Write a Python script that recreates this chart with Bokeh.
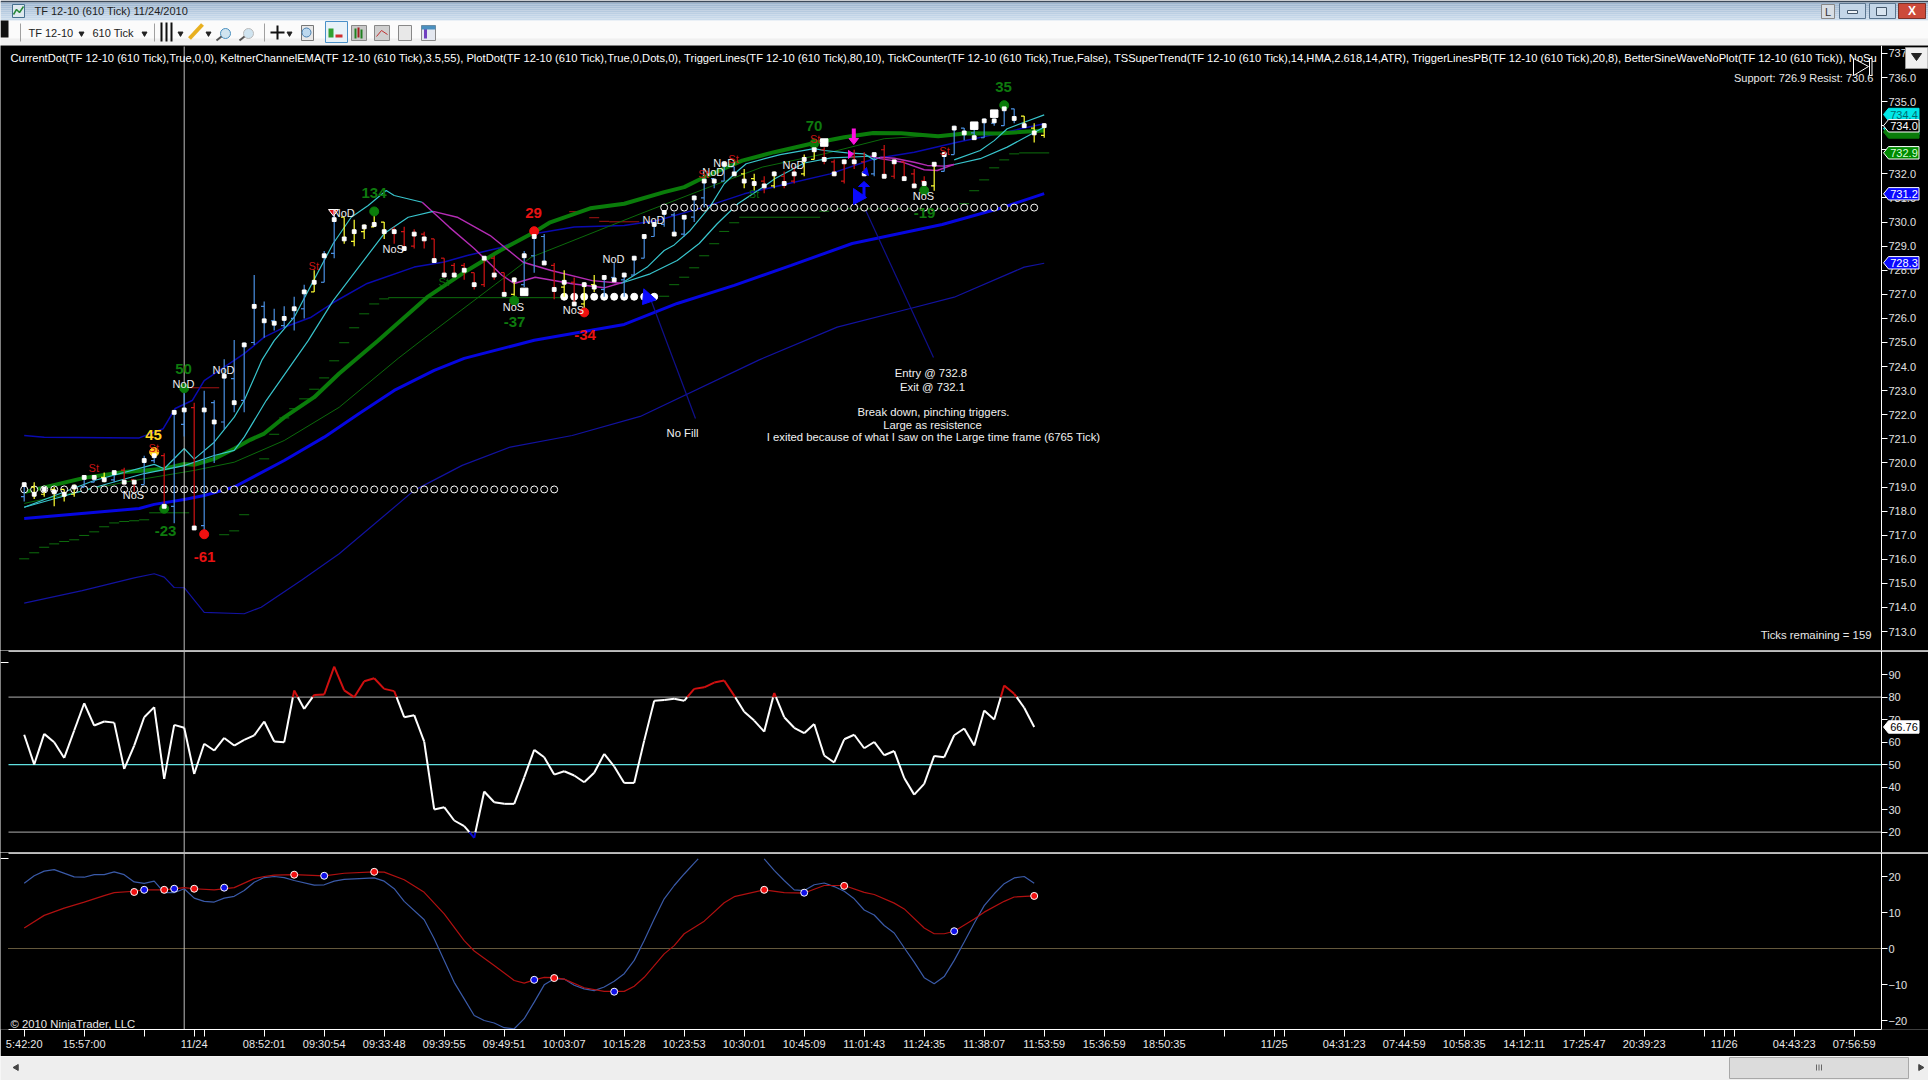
from bokeh.plotting import figure
from bokeh.layouts import column
from bokeh.embed import file_html
from bokeh.resources import INLINE
from bokeh.core.properties import value
from bokeh.models import Range1d, LinearAxis, FixedTicker, NumeralTickFormatter

# ---------------------------------------------------------------- data
bar_open = [718.6,719.0,718.7,718.9,718.9,718.7,719.0,719.2,719.4,719.3,
 719.7,719.3,719.1,720.1,720.3,718.2,721.6,722.3,717.4,722.5,
 721.7,723.5,722.6,725.0,726.5,725.9,725.7,726.0,726.4,727.1,
 727.5,728.7,730.2,729.2,729.6,729.8,730.0,729.7,729.6,729.0,
 729.5,729.3,728.5,728.2,728.2,727.9,727.4,728.5,727.9,727.0,
 727.4,728.6,729.4,728.2,727.3,727.5,726.6,727.4,727.2,727.7,
 727.6,727.8,728.5,729.4,729.9,730.3,729.5,730.2,731.0,731.8,
 731.7,732.3,732.0,731.8,731.7,731.5,731.9,731.7,732.0,732.6,
 733.0,732.5,731.7,732.7,732.5,732.0,733.0,731.9,732.5,732.0,
 731.7,731.5,732.1,732.8,733.9,733.7,733.5,734.1,734.0,734.7,
 734.4,733.9,733.6]
bar_high = [719.1,719.2,719.0,719.0,718.9,719.1,719.4,719.5,719.6,719.6,
 719.8,719.3,720.3,720.4,720.4,722.2,723.0,722.5,723.0,722.6,
 724.3,725.1,725.0,727.8,726.7,726.4,726.5,726.9,727.4,728.0,
 728.8,730.3,730.2,730.1,729.9,730.3,730.0,729.8,729.8,729.7,
 729.6,729.3,728.5,728.3,728.3,727.9,728.5,728.6,727.9,727.7,
 728.8,729.5,729.5,728.3,728.0,727.7,727.5,727.8,727.7,728.3,
 727.9,728.6,729.5,730.0,730.5,730.4,730.2,731.1,731.8,731.8,
 732.4,732.3,732.2,732.0,731.9,732.1,732.1,732.3,732.8,733.1,
 733.1,732.6,732.6,733.0,732.9,732.8,733.2,732.6,732.5,732.2,
 731.9,732.4,732.9,734.0,733.9,733.9,734.3,734.3,734.8,734.7,
 734.4,734.1,734.1]
bar_low = [718.4,718.5,718.6,718.2,718.4,718.6,719.0,719.2,719.2,719.2,
 719.1,718.8,719.1,720.0,718.1,717.5,721.1,717.3,717.1,720.0,
 721.4,722.1,722.1,724.9,725.2,725.5,725.6,725.5,726.0,727.1,
 727.5,728.5,729.1,729.0,729.3,729.8,729.3,729.1,728.9,728.9,
 728.9,728.3,727.7,727.7,727.6,727.2,727.3,727.6,727.0,726.9,
 727.3,727.9,728.3,726.8,726.9,726.6,726.4,727.1,726.9,727.6,
 726.9,727.8,728.5,729.4,729.8,729.5,729.4,730.0,730.6,731.4,
 731.7,732.0,731.4,731.3,731.2,731.4,731.4,731.6,731.9,732.6,
 732.4,731.9,731.6,732.2,731.9,731.9,731.9,731.8,731.7,731.4,
 731.5,731.3,732.1,732.8,733.4,733.5,733.5,734.0,734.0,734.1,
 733.9,733.3,733.5]
bar_close = [719.1,718.7,718.9,718.8,718.7,719.0,719.4,719.4,719.3,719.6,
 719.2,719.2,720.1,720.3,718.2,722.1,722.2,717.3,722.2,721.7,
 723.6,722.5,724.9,726.5,725.9,725.8,726.0,726.4,727.1,727.5,
 728.6,730.1,729.3,729.6,729.8,729.9,729.6,729.6,728.9,729.5,
 729.3,728.4,727.8,727.8,728.0,727.4,728.5,727.8,727.0,727.6,
 728.6,729.4,728.3,727.2,727.5,726.6,727.4,727.3,727.7,727.6,
 727.8,728.5,729.4,729.9,730.4,729.5,730.2,731.0,731.7,731.7,
 732.4,732.0,731.7,731.6,731.5,732.0,731.6,732.0,732.6,733.0,
 732.6,732.0,732.5,732.5,732.0,732.8,731.9,732.5,731.8,731.5,
 731.6,732.4,732.8,733.9,733.7,733.5,734.2,734.2,734.7,734.3,
 734.0,733.7,734.0]
bar_kind = list("BYYYYYBBYBRRBBRBBR" "BBBBBBBBBBB" "Y" "BB" "YYYYY" "RRRRRRRRRRRR" "Y" "BBB" "R" "Y" "R" "YY"
                "BBBBBBBBBBBBBB" "YY" "R" "Y" "RR" "YY" "RRRRR" "B" "RRRRR" "Y" "BBBBBBBB" "YYY")
big_bar = [50, 80, 95, 97]
big_val = [727.1, 733.3, 734.0, 734.5]

ema_x = [0,6,10,12,14,16,17,19,21,22.6,24,26,29,31.5,35.4,40.3,44.3,47.6,51,52.6,56.6,60,64,66,68,71.8,75,78.8,82,84.9,87.7,91.4,94.3,97.5,102]
ema_y = [718.79,719.38,719.62,719.69,719.76,719.96,719.92,720.17,720.59,720.96,721.22,721.89,722.73,723.71,725.08,726.88,727.99,728.82,729.58,729.99,730.57,730.76,731.24,731.45,731.86,732.55,732.90,733.26,733.52,733.70,733.69,733.56,733.69,733.68,733.80]
thin_x = [0,10,14,17,21,26,31.5,37.4,39.7,50.7,61.6,68.5,73.8,80,86,91,102]
thin_y = [718.32,719.2,719.48,719.69,720.03,720.93,722.31,724.34,725.08,728.54,730.34,731.45,732.28,732.83,733.46,733.59,733.8]
kc_mid_x = [0,11.5,13,16,18,21,26,30,33.5,37,41,44,51,60,65.3,71,76.7,82.8,91.8,97.5,102]
kc_mid_y = [717.69,718.11,718.28,718.48,718.65,719.0,720.1,721.07,722.05,723.01,723.84,724.34,725.09,725.75,726.62,727.37,728.2,729.11,729.9,730.56,731.18]
kc_low_x = [0,5.8,11,13,14,15,16,18,22,23.7,27.8,31.5,39,43.8,48.6,54.8,61.6,73.5,81.3,88.6,93,100,102]
kc_low_y = [714.18,714.7,715.23,715.4,715.26,714.83,714.82,713.8,713.74,714.01,715.15,716.23,718.86,719.9,720.66,721.14,721.93,724.28,725.64,726.41,726.88,728.13,728.29]
kc_up_x = [0,2,11.5,13.9,15.1,16.8,18,22,24,26,28.7,31,34.3,39,42,44.3,47.6,51,55,60,63.3,68,72,75.6,80.6,85,89,93.3,97.3,102]
kc_up_y = [721.14,721.07,721.04,721.42,722.26,722.59,723.42,724.54,725.22,725.63,726.05,726.68,727.45,728.13,728.34,728.61,728.93,729.51,729.79,729.86,730.06,730.62,731.17,731.52,732.0,732.63,732.9,733.31,733.66,734.08]

fast_runs = [
 ("c",[0,7,13,14,16,17,19,21,22,23.8,25,27,30.9,32.7,34.4,36.2,37,39.8],
      [718.16,719.27,719.94,719.76,720.6,720.16,720.86,721.9,722.59,724.29,725.08,726.05,729.11,730.2,730.69,731.31,731.1,730.82]),
 ("m",[39.8,42.5,45,47.8,49,51.1,54.8,58,59.9],
      [730.82,729.79,728.9,727.78,727.45,727.71,727.44,727.27,727.5]),
 ("c",[59.9,62.3,64,65,66.6,68.6,70,71.4,72.2,75.6,79,80,82.3,84,85,85.6],
      [727.5,728.13,728.82,729.05,729.65,730.65,731.59,732.14,732.42,732.8,733.05,732.97,732.87,732.83,732.58,732.69]),
 ("m",[85.6,87,89,90.3,92,93],[732.69,732.65,732.48,732.35,732.32,732.39]),
 ("c",[93,95.6,97,98.3,100,102],[732.58,732.97,733.38,733.87,734.14,734.45]),
]
slow_runs = [
 ("c",[0,12,16,19,21,22,24.2,28.4,30.9,36,38.4,40.9],
      [718.16,719.56,719.89,720.31,720.52,721.07,722.59,725.08,726.74,729.52,730.2,730.44]),
 ("m",[40.9,43.3,46.6,49.9,52.7,56.8,59.7],[730.44,730.2,729.44,728.33,727.99,727.57,727.46]),
 ("c",[59.7,62.6,65.3,67.5,69.3,71.4,73.9,75.1,78,80.7,84.6],
      [727.46,727.85,728.4,729.11,729.93,730.77,731.45,731.81,732.45,732.66,732.73]),
 ("m",[84.6,85.6,87.9,90,91.3,93],[732.73,732.63,732.48,732.17,732.14,732.39]),
 ("c",[93,95.6,98.3,101,102],[732.39,732.63,733.11,733.72,733.94]),
]

st_green_from = [-.5,.5,1.5,2.5,3.5,4.5,5.5,6.5,7.5,8.5,9.5,10.5,11.5,12.5,19.5,20.5,21.5,22.5,23.5,24.5,25.5,26.5,27.5,28.5,29.5,30.5,31.5,32.5,33.5,34.5,35.5,36.4,63.5,64.5,65.5,66.5,67.5,68.5,69.5,70.5,71.5,79.5,80.5,93.5,94.5,95.5,96.5,97.5,98.5,99.5]
st_green_to   = [.5,1.5,2.5,3.5,4.5,5.5,6.5,7.5,8.5,9.5,10.5,11.5,12.5,16.5,20.5,21.5,22.5,23.5,24.5,25.5,26.5,27.5,28.5,29.5,30.5,31.5,32.5,33.5,34.5,35.5,36.5,53.6,64.5,65.5,66.5,67.5,68.5,69.5,70.5,71.5,79.6,80.5,93.5,94.5,95.5,96.5,97.5,98.5,99.5,102.5]
st_green_val  = [716.02,716.27,716.5,716.64,716.74,716.81,716.99,717.14,717.35,717.51,717.57,717.6,717.64,717.93,717.02,717.18,717.85,718.81,720.17,721.19,721.87,722.25,722.66,723.06,723.53,724.24,724.99,725.61,726.19,726.6,726.81,726.86,726.92,727.4,727.71,728.1,728.6,729.1,729.61,729.97,730.2,730.45,730.55,730.76,731.3,731.75,732.25,732.58,732.83,732.87]
st_red_from = [16.5,54.5,56.5,57.5,58.5]
st_red_to   = [19.5,55.5,57.5,58.5,61.5]
st_red_val  = [723.12,730.43,730.18,730.03,730.01]

ring_bars_a = list(range(0, 54));  ring_a = 718.9
disc_bars   = list(range(54, 64)); disc_v = 726.9
ring_bars_b = list(range(64, 102)); ring_b = 730.6

dot_green_i = [16,14,35,49,79,90,98]
dot_green_v = [723.1,718.1,730.44,726.74,733.25,731.31,734.85]
dot_red_i = [18,51,56]
dot_red_v = [717.04,729.62,726.25]
dot_yellow_i = [13]
dot_yellow_v = [720.45]

rsi = [63.3,50.1,63.7,60,53,65.2,77.3,67.4,69.2,68.7,48.1,58.5,71.1,75.6,43.7,67.7,66.4,45.9,59.3,56.3,
 61.9,58.5,61,63,69.2,60.3,60,83,74.8,81,81.2,93.6,83,80,87.1,88.4,83.7,82.7,71.1,72,
 60.3,30.1,31.1,25.2,22.7,17.5,38.1,33.3,32.6,32.6,44.4,56.6,53.3,45.6,47.1,45.2,42.2,46.4,54.8,49.2,
 41.9,41.9,60.7,78.4,78.8,79.3,78.4,83.7,84.4,86.5,87.4,80.7,73.5,69.6,64.7,81.9,71.1,66.4,64,68.1,
 54.1,51,61.3,63.3,57.3,60.1,54.2,56.1,44.1,36.7,41.5,53.9,53.3,63.1,66.1,58.5,74.1,70.1,85.2,81.5,75.3,66.76]

sig_x = [0,2,4,6,8,9,11,12,14,16,17,19,21,23,24,25,27,30,32,35,36,38,40,42,44,45,47,49,50,51,52,53,54,56,58,60,61,62,64,65,66,68,70,71,74,76,78,80,82,84,85,87,88,90,91,92,93,95,96,98,99,101]
sig_y = [5.7,9.2,11.2,12.9,14.7,15.5,15.9,16.3,16.3,16.9,16.6,16.3,16.9,19.4,20,20.4,20.5,20.2,20.9,21.3,21.2,19.1,15.6,9.6,2.2,-0.7,-4.7,-8.9,-9.6,-8.7,-8,-8.1,-8.5,-10.9,-11.9,-11.9,-10.5,-8,-1.5,0.8,4.1,7.6,12.7,14.4,16.3,15.5,15.4,17.5,17.5,15.6,15,12.6,11,5.7,4.1,4.1,4.8,8.2,10.1,13.1,14.3,14.6]
osc_x = [0,1,2,3,5,6,7,8,9,10,11,12,13,14,15,16,17,18,19,20,21,22,23,24,25,26,27,29,30,31,32,35,36,37,38,40,41,42,43,44,45,46,47,48,49,50,51,52,53,54,55,56,57,58,59,60,61,62,63,64,65,66,67,67.4,None,74,75,76,77,78,79,80,81,82,83,84,85,86,87,88,89,90,91,92,93,94,95,96,97,98,99,100,101]
osc_y = [18.1,20.2,21.5,21.9,19.9,19.8,20.5,20.5,21.3,20.5,18.5,18.1,18.7,15.5,15.5,16.6,14,13.1,12.9,14,14.5,16.1,18.4,19.7,20,19.7,18.9,17.6,17.7,18.7,19.2,19.6,18.7,16.6,13.1,8,2.7,-3.3,-9.4,-14,-18.6,-20,-20.7,-22,-22.3,-19.5,-14.9,-10.1,-8.4,-8.5,-10.2,-11.2,-11.7,-10.7,-9.1,-7,-3.3,2.2,8.2,13.8,17.5,20.7,23.7,24.9,None,24.9,21.7,18.9,16.3,16.1,17.7,18.2,17.2,15.9,13.8,10.7,9.3,6.4,4.3,0.2,-3.8,-8.1,-9.8,-7.8,-3.3,1.8,7,11.9,15.2,18,19.6,20,18.1]
cross_red_i = [11,14,17,27,35,53,74,82,101]
cross_red_v = [15.7,16.3,16.6,20.5,21.3,-8.2,16.3,17.4,14.6]
cross_blue_i = [12,15,20,30,51,59,78,93]
cross_blue_v = [16.3,16.6,16.9,20.2,-8.7,-12,15.5,4.8]

time_ticks = [0,6,12,17,18,24,30,36,42,48,54,60,66,72,78,84,90,96,102,108,114,120,125,126,132,138,144,150,156,162,168,170,171,177,183]
time_labels = ["5:42:20","15:57:00","","11/24","","08:52:01","09:30:54","09:33:48","09:39:55","09:49:51","10:03:07","10:15:28","10:23:53","10:30:01","10:45:09","11:01:43","11:24:35","11:38:07","11:53:59","15:36:59","18:50:35","","11/25","","04:31:23","07:44:59","10:58:35","14:12:11","17:25:47","20:39:23","","11/26","","04:43:23","07:56:59"]
price_ticks = list(range(713, 738))
rsi_ticks = [20,30,40,50,60,70,80,90]
osc_ticks = [-20,-10,0,10,20]
crosshair_bar = 16

indicators = ("CurrentDot(TF 12-10 (610 Tick),True,0,0), KeltnerChannelEMA(TF 12-10 (610 Tick),3.5,55), PlotDot(TF 12-10 (610 Tick),True,0,Dots,0), "
 "TriggerLines(TF 12-10 (610 Tick),80,10), TickCounter(TF 12-10 (610 Tick),True,False), TSSuperTrend(TF 12-10 (610 Tick),14,HMA,2.618,14,ATR), "
 "TriggerLinesPB(TF 12-10 (610 Tick),20,8), BetterSineWaveNoPlot(TF 12-10 (610 Tick)), NoSu")

# ---------------------------------------------------------------- helpers
FONT = "Liberation Sans"
W, H = 1928, 1080
AXIS_X = 1881
X0, DX = 23.7, 10.0
def bx(px): return (px - X0) / DX
def py(y): return 736 - (y - 77) / 24.09
BG = "black"
xr = Range1d(bx(0), bx(W))

def panel(h, yr, border_b=0):
    p = figure(width=W, height=h, x_range=xr, y_range=yr, output_backend="svg", toolbar_location=None,
               x_axis_location=None, y_axis_location=None, background_fill_color=BG, border_fill_color=BG,
               min_border_left=0, min_border_right=0, min_border_top=0, min_border_bottom=border_b)
    p.grid.visible = False
    p.outline_line_color = None
    return p

def y_axis(p, ticks, fmt=None):
    a = LinearAxis(ticker=FixedTicker(ticks=ticks), axis_line_color="white", major_tick_line_color="white",
                   minor_tick_line_color=None, major_tick_in=0, major_tick_out=6, major_label_standoff=1,
                   major_label_text_color="#e0e0e0", major_label_text_font=FONT, major_label_text_font_size="11px",
                   fixed_location=bx(AXIS_X))
    if fmt: a.formatter = fmt
    p.add_layout(a, "right")

def txt(p, x, y, s, color="white", size=11, bold=False, align="center", level="glyph"):
    p.text([x], [y], text=[s], text_color=color, text_font=value(FONT), text_font_size=f"{size}px",
           text_font_style="bold" if bold else "normal", text_align=align, text_baseline="middle", level=level)

def flag(p, cy, s, fill, edge, tcol, conv):
    x0, x1, tip = bx(1888), bx(1918.5), bx(1883)
    t, b = conv(cy - 6.2), conv(cy + 6.2)
    p.patch([tip, x0, x1, x1, x0], [conv(cy), t, t, b, b], fill_color=fill, line_color=edge, line_width=1, level="overlay")
    if s:
        txt(p, bx(1903.5), conv(cy), s, tcol, 11, level="overlay")

# ---------------------------------------------------------------- window title and toolbar
top = figure(width=W, height=45, x_range=Range1d(0, W), y_range=Range1d(45, 0), output_backend="svg", toolbar_location=None,
             x_axis_location=None, y_axis_location=None, background_fill_color="#f4f4f4", border_fill_color="#f4f4f4",
             min_border=0)
top.grid.visible = False
top.outline_line_color = None
for k, c in enumerate(["#3c4a5a","#9db6cf","#a3bbd3","#a9c0d7","#afc5db","#b5cadf","#bbcfe3","#c1d4e7","#c6d8ea","#cbdcec","#d0dfef"]):
    top.quad(left=0, right=W, top=k*2, bottom=k*2+2, fill_color=c, line_color=None)
top.quad(left=0, right=W, top=20, bottom=45, fill_color="#fbfbfb", line_color=None)
top.quad(left=0, right=W, top=38, bottom=45, fill_color="#f0f0f0", line_color=None)
top.quad(left=0, right=8, top=20, bottom=37, fill_color="#111111", line_color=None)
top.quad(left=[12], right=[24], top=[4], bottom=[17], fill_color="#dfe9ef", line_color="#47708f")
top.line([13,16,19,23],[14,9,12,6], line_color="#2a8a3a", line_width=1.5)
txt(top, 34, 10, "TF 12-10 (610 Tick)  11/24/2010", "#222222", 11, align="left")
txt(top, 28, 32, "TF 12-10", "#222222", 11, align="left")
txt(top, 92, 32, "610 Tick", "#222222", 11, align="left")
top.scatter([81,144,180,208,289],[33,33,33,33,33], marker="inverted_triangle", size=5, color="#222222")
top.segment([20,154,264],[23,23,23],[20,154,264],[41,41,41], line_color="#a0a0a0")
for x in (161,166,171):
    top.segment([x],[22],[x],[41], line_color="#111111", line_width=2)
top.segment([189],[38],[202],[24], line_color="#e8b020", line_width=4)
for x, c in ((225,"#4a90c0"),(248,"#bbbbbb")):
    top.scatter([x],[33], marker="circle", size=10, fill_color="#d0e4f0", line_color=c)
    top.segment([x-9],[40],[x-4],[36], line_color="#555555", line_width=2)
top.segment([270,277],[32,25],[284,277],[32,39], line_color="#111111", line_width=2)
top.quad(left=[301],right=[313],top=[25],bottom=[40],fill_color="#e8e8e8",line_color="#777777")
top.scatter([306],[32],marker="circle",size=9,fill_color="#bcd8ee",line_color="#4a80b0")
top.quad(left=[325],right=[347],top=[21],bottom=[42],fill_color="#e8f2f8",line_color="#4a90c8")
top.quad(left=[328,335],right=[333,342],top=[28,34],bottom=[37,37],fill_color=["#30a030","#d03030"],line_color=None)
top.quad(left=[351,374,398,421],right=[366,389,411,435],top=[25,25,25,25],bottom=[40,40,40,40],
         fill_color=["#c8c8c8","#cfcfcf","#e8e8e8","#e4e8f0"],line_color="#888888")
top.segment([355,358,361],[28,27,29],[355,358,361],[38,37,38],line_color=["#208020","#a02020","#208020"],line_width=2)
top.line([376,381,387],[36,30,34],line_color="#c03030")
top.segment([425],[27],[425],[38],line_color="#7040c0",line_width=3)
top.quad(left=[421],right=[435],top=[25],bottom=[29],fill_color="#4a90c0",line_color=None)
top.quad(left=[1821],right=[1834],top=[4],bottom=[18],fill_color="#d8dee4",line_color="#888888")
txt(top, 1827.5, 11, "L", "#333333", 11)
top.quad(left=[1839,1869],right=[1865,1895],top=[3,3],bottom=[18,18],fill_color="#c4d6e8",line_color="#5c7690")
top.quad(left=[1898],right=[1925],top=[3],bottom=[18],fill_color="#cc4a3a",line_color="#7a3028")
top.quad(left=[1847],right=[1857],top=[10],bottom=[13],fill_color="#f0f4f8",line_color="#45586c")
top.quad(left=[1876],right=[1886],top=[7],bottom=[15],fill_color="#d8e4f0",line_color="#45586c")
txt(top, 1911.5, 10.5, "X", "white", 12, bold=True)

# ---------------------------------------------------------------- price pane
main = panel(605, Range1d(py(650), py(45)))
y_axis(main, price_ticks, NumeralTickFormatter(format="0.0"))

idx = list(range(len(bar_close)))
# supertrend steps
main.segment(st_green_from, st_green_val, st_green_to, st_green_val, line_color="#0d6e0d", line_width=1)
main.segment(st_red_from, st_red_val, st_red_to, st_red_val, line_color="#a51414", line_width=1)
main.segment([91],[733.57],[92],[733.57], line_color="#8a5a10", line_width=2)
# channel
main.line(kc_low_x, kc_low_y, line_color="#1212a0", line_width=1.2)
main.line(kc_up_x, kc_up_y, line_color="#0a0ab0", line_width=1.5)
main.line(kc_mid_x, kc_mid_y, line_color="#0606e0", line_width=3)
main.line(thin_x, thin_y, line_color="#0b6a0b", line_width=1)
main.line(ema_x, ema_y, line_color="#0a7c0a", line_width=4)
# trigger lines
for runs in (fast_runs, slow_runs):
    for kind, xs, ys in runs:
        main.line(xs, ys, line_color="#38c4cc" if kind == "c" else "#b42cb4", line_width=1.2 if kind == "c" else 1.4)
# annotation diagonals
main.line([bx(651),bx(695)],[py(301),py(418)], line_color="#10108c", line_width=1.2)
main.line([bx(863),bx(933)],[py(205),py(357)], line_color="#10108c", line_width=1.2)
# dots rows
main.scatter(ring_bars_a, [ring_a]*len(ring_bars_a), marker="circle", size=7, fill_color="black", line_color="white", line_width=1)
main.scatter(ring_bars_b, [ring_b]*len(ring_bars_b), marker="circle", size=7, fill_color="black", line_color="white", line_width=1)
main.scatter(disc_bars, [disc_v]*len(disc_bars), marker="circle", size=7, fill_color="white", line_color="white")
# crosshair
main.line([crosshair_bar]*2, [py(46), py(650)], line_color="#bdbdbd", line_width=1)
# bars
KIND = {"B":"#4a90e2","R":"#d01414","Y":"#ffff33"}
bar_col = [KIND[k] for k in bar_kind]
main.segment(idx, bar_low, idx, bar_high, line_color=bar_col, line_width=1.2)
main.segment([i-0.32 for i in idx], bar_open, idx, bar_open, line_color=bar_col, line_width=1.2)
main.scatter(dot_green_i, dot_green_v, marker="circle", size=9, color="#0a7c0a")
main.scatter(dot_red_i, dot_red_v, marker="circle", size=9, color="#f01010")
main.scatter(dot_yellow_i, dot_yellow_v, marker="circle", size=9, color="#ffc81e")
main.scatter(idx, bar_close, marker="square", size=3.8, color="white")
main.scatter(big_bar, big_val, marker="square", size=7.5, color="white")
# arrows
main.patch([bx(x) for x in (643.3,642,655.7)], [py(y) for y in (288.3,304,299.3)], color="#0a0aff")
main.patch([bx(x) for x in (853,853,866)], [py(y) for y in (188,204,197)], color="#0a0aff")
main.segment([bx(863.5)],[py(198)],[bx(863.5)],[py(185)], line_color="#0a0aff", line_width=3)
main.patch([bx(x) for x in (858,869,863.5)], [py(y) for y in (186,186,181)], color="#0a0aff")
main.patch([bx(x) for x in (866,868,862)], [py(y) for y in (167,175,172)], color="#0a0aff")
main.segment([bx(853.3)],[py(128)],[bx(853.3)],[py(139)], line_color="#ff10e0", line_width=4)
main.patch([bx(x) for x in (848.5,858,853.3)], [py(y) for y in (138,138,144)], color="#ff10e0")
main.patch([bx(x) for x in (848,848,853)], [py(y) for y in (150,158,153.5)], color="#ff10e0")
main.patch([bx(x) for x in (328,338,333)], [py(y) for y in (209,209,215.5)], fill_color="#e01010", line_color="white")
# texts
txt(main, bx(10), py(57.3), indicators, "white", 11.17, align="left")
txt(main, bx(1876), py(77), "Support: 726.9  Resist: 730.6", "#e8e8e8", 11, align="right")
txt(main, bx(1871), py(634.5), "Ticks remaining = 159", "#e8e8e8", 11.35, align="right")
for s, x, y in [("No Fill",682,432),("Entry  @ 732.8",932,372.6),("Exit @ 732.1",932,386),("Break down, pinching triggers.",933,411),
                ("Large as resistence",932,424),("I exited because of what I saw on the Large time frame (6765 Tick)",933,436)]:
    txt(main, bx(x), py(y), s, "#f0f0f0", 11.3)
for s, x, y, c in [("50",183,368,"#0e7a0e"),("45",153,434,"#ffd320"),("-23",165,530,"#0e7a0e"),("-61",204,556,"#e81212"),("134",373.5,192.7,"#0e7a0e"),
                   ("29",533,212.7,"#e81212"),("-37",514,321.7,"#0e7a0e"),("-34",584.5,334,"#e81212"),("70",813.5,125.7,"#0e7a0e"),("35",1003,86.7,"#0e7a0e"),("-19",924,212,"#0e7a0e")]:
    txt(main, bx(x), py(y), s, c, 15, bold=True)
for s, x, y in [("NoD",183,383.3),("NoD",223,369),("NoS",133,494),("NoS",392.7,248.3),("NoD",343.3,212.3),("NoS",513,306),("NoS",573,309),
                ("NoD",613,258.3),("NoD",653,219.3),("NoD",723.7,162.3),("NoD",712.7,171.7),("NoD",793,164),("NoS",923,195)]:
    txt(main, bx(x), py(y), s, "#eeeeee", 11)
for x, y in [(93.3,467.7),(153.3,447.3),(313.3,265),(814.7,138.3),(944,150),(733,158.3),(703,173)]:
    txt(main, bx(x), py(y), "St", "#c81414", 11)
for x, y in [(443.3,281.7),(753.5,193.3)]:
    txt(main, bx(x), py(y), "St", "#0b6a0b", 11)
# play glyph
main.patch([bx(x) for x in (1853,1853,1868)], [py(y) for y in (58,75,66)], fill_color="black", line_color="white", line_width=1)
main.quad(left=[bx(1869)], right=[bx(1871.5)], top=[py(58)], bottom=[py(75)], fill_color="black", line_color="white")
# menu button over the top tick of the price axis
main.quad(left=[bx(1905)], right=[bx(1927.5)], top=[py(47)], bottom=[py(68)], fill_color="#f0f0f0", line_color="#999999", level="overlay")
main.patch([bx(1911),bx(1921),bx(1916)], [py(53),py(53),py(60)], color="#222222", level="overlay")
# price flags
flag(main, 128, "", "#00e0e0", "#00e0e0", "white", py)
flag(main, 131.5, "", "#0a7c0a", "#0a7c0a", "white", py)
flag(main, 114, "734.4", "#00e8e8", "#00e8e8", "#006a70", py)
flag(main, 125.3, "734.0", "black", "white", "white", py)
flag(main, 152.3, "732.9", "#008a00", "white", "#d8ffd8", py)
flag(main, 193.3, "731.2", "#0a0aff", "white", "white", py)
flag(main, 262.3, "728.3", "#0a0aff", "white", "white", py)

# ---------------------------------------------------------------- RSI pane
def ry(y): return 80 - (y - 696.7) / 2.25
rp = panel(202, Range1d(ry(852), ry(650)))
y_axis(rp, rsi_ticks)
rp.line([bx(8), bx(W)], [ry(650.5)]*2, line_color="white", line_width=1.5)
rp.line([bx(8), bx(AXIS_X)], [80, 80], line_color="#8c8c8c", line_width=1.2)
rp.line([bx(8), bx(AXIS_X)], [20, 20], line_color="#8c8c8c", line_width=1.2)
rp.line([bx(8), bx(AXIS_X)], [50, 50], line_color="#60e0e0", line_width=1.2)
rp.line([crosshair_bar]*2, [ry(650), ry(852)], line_color="#bdbdbd", line_width=1)
rp.segment([bx(0)], [ry(662)], [bx(8)], [ry(662)], line_color="white", line_width=1)
# colour the oscillator by zone: white in 20..80, red above, blue below
seg_x, seg_y, seg_c = [], [], []
for i in range(len(rsi) - 1):
    a, b = rsi[i], rsi[i + 1]
    cuts = sorted([i + (lv - a) / (b - a) for lv in (20, 80) if (a - lv) * (b - lv) < 0])
    pts = [i] + cuts + [i + 1]
    for u, v in zip(pts[:-1], pts[1:]):
        ya, yb = a + (b - a) * (u - i), a + (b - a) * (v - i)
        m = (ya + yb) / 2
        seg_x.append([u, v]); seg_y.append([ya, yb])
        seg_c.append("#d01010" if m > 80 else ("#0a0ad0" if m < 20 else "white"))
rp.multi_line(seg_x, seg_y, line_color=seg_c, line_width=2)
flag(rp, 726.5, "66.76", "white", "white", "black", ry)

# ---------------------------------------------------------------- sine-wave pane
def oy(y): return (948 - y) / 3.6
lp = panel(204, Range1d(oy(1029), oy(852)), border_b=27)
y_axis(lp, osc_ticks)
lp.line([bx(8), bx(W)], [oy(852.5)]*2, line_color="white", line_width=1.5)
lp.line([bx(8), bx(AXIS_X)], [0, 0], line_color="#c8b078", line_width=1, line_dash="1 1")
lp.line([crosshair_bar]*2, [oy(852), oy(1029)], line_color="#bdbdbd", line_width=1)
lp.segment([bx(0)], [oy(858)], [bx(8)], [oy(858)], line_color="white", line_width=1)
nan = float("nan")
lp.line([nan if v is None else v for v in osc_x], [nan if v is None else v for v in osc_y], line_color="#3a5aa8", line_width=1.2)
lp.line(sig_x, sig_y, line_color="#b01010", line_width=1.2)
lp.scatter(cross_red_i, cross_red_v, marker="circle", size=7, fill_color="#f01010", line_color="white")
lp.scatter(cross_blue_i, cross_blue_v, marker="circle", size=7, fill_color="#1010e8", line_color="white")
txt(lp, bx(10), oy(1023), "© 2010 NinjaTrader, LLC", "#e8e8e8", 11.3, align="left")
xa = LinearAxis(ticker=FixedTicker(ticks=time_ticks), major_label_overrides=dict(zip(time_ticks, time_labels)),
                axis_line_color="white", major_tick_line_color="white", minor_tick_line_color=None,
                major_tick_in=0, major_tick_out=7, major_label_standoff=1, major_label_text_color="#e8e8e8",
                major_label_text_font=FONT, major_label_text_font_size="11px", bounds=(bx(8), bx(AXIS_X)))
lp.add_layout(xa, "below")

# ---------------------------------------------------------------- scroll bar
sb = figure(width=W, height=24, x_range=Range1d(0, W), y_range=Range1d(24, 0), output_backend="svg", toolbar_location=None,
            x_axis_location=None, y_axis_location=None, background_fill_color="#eeeeee", border_fill_color="#eeeeee", min_border=0)
sb.grid.visible = False
sb.outline_line_color = None
sb.quad(left=[1729], right=[1908], top=[1], bottom=[22], fill_color="#dcdcdc", line_color="#a8a8a8")
sb.scatter([16], [11], marker="triangle", size=6, angle=1.5708, color="#444444")
sb.scatter([1920], [11], marker="triangle", size=6, angle=-1.5708, color="#444444")
sb.segment([1816,1818.5,1821], [8,8,8], [1816,1818.5,1821], [14,14,14], line_color="#666666")

page = column(top, main, rp, lp, sb, spacing=0)
open("out.html", "w").write(file_html(page, INLINE))
